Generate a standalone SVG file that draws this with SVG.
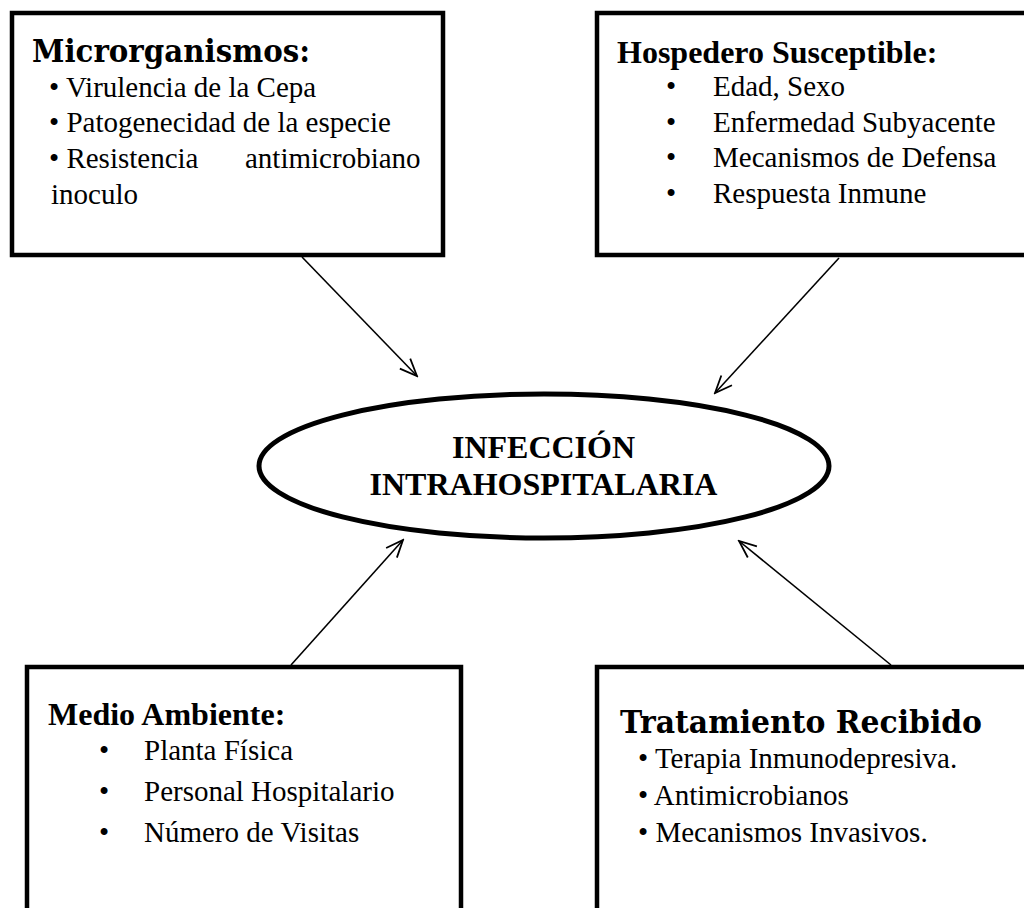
<svg xmlns="http://www.w3.org/2000/svg" width="1024" height="908" viewBox="0 0 1024 908">
<style>
.box{fill:#fff;stroke:#000;stroke-width:4.5}
.ell{fill:#fff;stroke:#000;stroke-width:5}
.body{font-family:"Liberation Serif","Times New Roman",serif;font-size:29px;fill:#000}
.tb{font-family:"Liberation Serif","Times New Roman",serif;font-size:32px;font-weight:bold;fill:#000}
.bk{font-family:"DejaVu Serif","Liberation Serif",serif;font-size:32px;font-weight:bold;fill:#000}
.conn{stroke:#000;stroke-width:1.6;fill:none;marker-end:url(#arr)}
</style>
<defs>
<marker id="arr" markerUnits="userSpaceOnUse" markerWidth="20" markerHeight="20" viewBox="0 0 18 16" refX="16.5" refY="8" orient="auto">
<path d="M1,1.5 L16.5,8 L1,14.5" fill="none" stroke="#000" stroke-width="1.6"/>
</marker>
</defs>
<rect width="1024" height="908" fill="#fff"/>
<g id="connectors">
<line class="conn" x1="302" y1="257" x2="417" y2="376"/>
<line class="conn" x1="839" y1="258" x2="715" y2="393"/>
<line class="conn" x1="291" y1="665" x2="403" y2="540"/>
<line class="conn" x1="891" y1="665" x2="739" y2="541"/>
</g>
<g id="microrganismos">
<rect class="box" x="12" y="13" width="431" height="242"/>
<text class="bk" x="32" y="62" textLength="278" lengthAdjust="spacingAndGlyphs">Microrganismos:</text>
<text class="body" x="49" y="97">• Virulencia de la Cepa</text>
<text class="body" x="49" y="132">• Patogenecidad de la especie</text>
<text class="body" x="49" y="168">• Resistencia</text>
<text class="body" x="245" y="168">antimicrobiano</text>
<text class="body" x="51" y="204">inoculo</text>
</g>
<g id="hospedero">
<rect class="box" x="597" y="13" width="440" height="242"/>
<text class="tb" x="617" y="63">Hospedero Susceptible:</text>
<text class="body" x="666" y="96">•</text><text class="body" x="713" y="96">Edad, Sexo</text>
<text class="body" x="666" y="132">•</text><text class="body" x="713" y="132">Enfermedad Subyacente</text>
<text class="body" x="666" y="167">•</text><text class="body" x="713" y="167">Mecanismos de Defensa</text>
<text class="body" x="666" y="203">•</text><text class="body" x="713" y="203">Respuesta Inmune</text>
</g>
<g id="infeccion">
<ellipse class="ell" cx="544" cy="466" rx="285" ry="72"/>
<text class="tb" x="543.5" y="458" text-anchor="middle">INFECCIÓN</text>
<text class="tb" x="543.5" y="495" text-anchor="middle">INTRAHOSPITALARIA</text>
</g>
<g id="medio">
<rect class="box" x="27" y="667" width="434" height="270"/>
<text class="tb" x="48" y="725">Medio Ambiente:</text>
<text class="body" x="99" y="760">•</text><text class="body" x="144" y="760">Planta Física</text>
<text class="body" x="99" y="801">•</text><text class="body" x="144" y="801">Personal Hospitalario</text>
<text class="body" x="99" y="842">•</text><text class="body" x="144" y="842">Número de Visitas</text>
</g>
<g id="tratamiento">
<rect class="box" x="597" y="667" width="440" height="270"/>
<text class="bk" x="620" y="733" textLength="362" lengthAdjust="spacingAndGlyphs">Tratamiento Recibido</text>
<text class="body" x="638" y="768">• Terapia Inmunodepresiva.</text>
<text class="body" x="638" y="805">• Antimicrobianos</text>
<text class="body" x="638" y="842">• Mecanismos Invasivos.</text>
</g>
</svg>
